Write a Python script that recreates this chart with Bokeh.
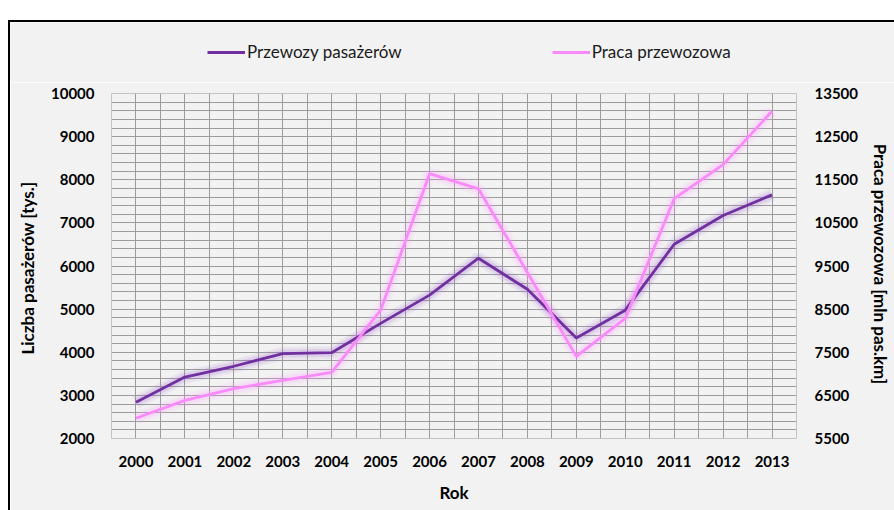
from bokeh.plotting import figure
from bokeh.layouts import column
from bokeh.models import Range1d, LinearAxis, FixedTicker, SingleIntervalTicker, Legend, LegendItem
from bokeh.embed import file_html
from bokeh.resources import INLINE

years = [2000, 2001, 2002, 2003, 2004, 2005, 2006, 2007, 2008, 2009, 2010, 2011, 2012, 2013]
przewozy = [2840, 3425, 3675, 3970, 3990, 4670, 5325, 6180, 5460, 4330, 4975, 6505, 7170, 7650]
praca = [5970, 6385, 6655, 6850, 7035, 8475, 11640, 11290, 9350, 7405, 8285, 11060, 11850, 13090]
left_ticks = [2000, 3000, 4000, 5000, 6000, 7000, 8000, 9000, 10000]
right_ticks = [5500, 6500, 7500, 8500, 9500, 10500, 11500, 12500, 13500]
series_names = ["Przewozy pasażerów", "Praca przewozowa"]

FONT = "Lato"
BG = "#f2f2f2"
PURPLE = "#7030a0"
PINK = "#f98af9"

# ---- legend strip (top part of the chart box) ----
lf = figure(width=884, height=60, output_backend="svg", toolbar_location=None,
            x_range=Range1d(0, 1), y_range=Range1d(0, 1),
            background_fill_color=BG, border_fill_color=BG,
            min_border_left=0, min_border_right=0, min_border_top=0, min_border_bottom=0)
lf.frame_align = False
lf.axis.visible = False
lf.grid.visible = False
lf.outline_line_color = None
# series drawn outside this strip's view; used only as legend keys
d1 = lf.line(years, przewozy, line_color=PURPLE, line_width=3)
d2 = lf.line(years, praca, line_color=PINK, line_width=3)
lg = Legend(items=[LegendItem(label=series_names[0], renderers=[d1]),
                   LegendItem(label=series_names[1], renderers=[d2])],
            location=(197, 20), orientation="horizontal", padding=0, margin=0, spacing=150,
            background_fill_alpha=0, border_line_color=None,
            glyph_width=38, glyph_height=16, label_standoff=2,
            label_text_font=FONT, label_text_font_size="17px", label_text_color="#1a1a1a")
lf.add_layout(lg, "center")

# ---- main chart ----
p = figure(width=884, height=428, output_backend="svg", toolbar_location=None,
           x_range=Range1d(1999.5, 2013.5), y_range=Range1d(2000, 10000),
           background_fill_color=BG, border_fill_color=BG,
           min_border_left=101, min_border_right=98, min_border_top=11, min_border_bottom=72)
p.frame_align = False
p.extra_y_ranges = {"right": Range1d(5500, 13500)}
p.outline_line_color = "#c4c4c4"

p.xgrid.ticker = SingleIntervalTicker(interval=0.5)
p.ygrid.ticker = SingleIntervalTicker(interval=200)
for g in (p.xgrid, p.ygrid):
    g.grid_line_color = "#9c9c9c"
    g.grid_line_width = 1

def style_axis(ax):
    ax.axis_line_color = None
    ax.major_tick_line_color = None
    ax.minor_tick_line_color = None
    ax.major_tick_out = 0
    ax.major_tick_in = 0
    ax.minor_tick_out = 0
    ax.minor_tick_in = 0
    ax.major_label_text_font = FONT
    ax.major_label_text_font_style = "bold"
    ax.major_label_text_font_size = "15px"
    ax.major_label_text_color = "#000000"
    ax.axis_label_text_font = FONT
    ax.axis_label_text_font_style = "bold"
    ax.axis_label_text_font_size = "17px"
    ax.axis_label_text_color = "#000000"

xa = p.xaxis[0]
xa.ticker = FixedTicker(ticks=years)
xa.axis_label = "Rok"
style_axis(xa)
xa.major_label_standoff = 17
xa.axis_label_standoff = 12

ya = p.yaxis[0]
ya.ticker = FixedTicker(ticks=left_ticks)
ya.axis_label = "Liczba pasażerów  [tys.]"
style_axis(ya)
ya.major_label_standoff = 17
ya.axis_label_standoff = 10

ra = LinearAxis(y_range_name="right", ticker=FixedTicker(ticks=right_ticks),
                axis_label="Praca przewozowa  [mln pas.km]")
style_axis(ra)
ra.major_label_standoff = 18
ra.axis_label_standoff = 9
p.add_layout(ra, "right")

# soft glow under the lines
for w, a in ((13, 0.10), (8, 0.16)):
    p.line(years, przewozy, line_color="#9a66cc", line_width=w, line_alpha=a)
    p.line(years, praca, line_color="#ff99ff", line_width=w, line_alpha=a, y_range_name="right")

p.line(years, przewozy, line_color=PURPLE, line_width=2.8)
p.line(years, praca, line_color=PINK, line_width=2.8, y_range_name="right")

layout = column(lf, p, spacing=0)
layout.styles = {"border-left": "2px solid #000000", "border-top": "2px solid #000000",
                 "margin-top": "20px", "margin-left": "8px"}

open("out.html", "w").write(file_html(layout, INLINE))
